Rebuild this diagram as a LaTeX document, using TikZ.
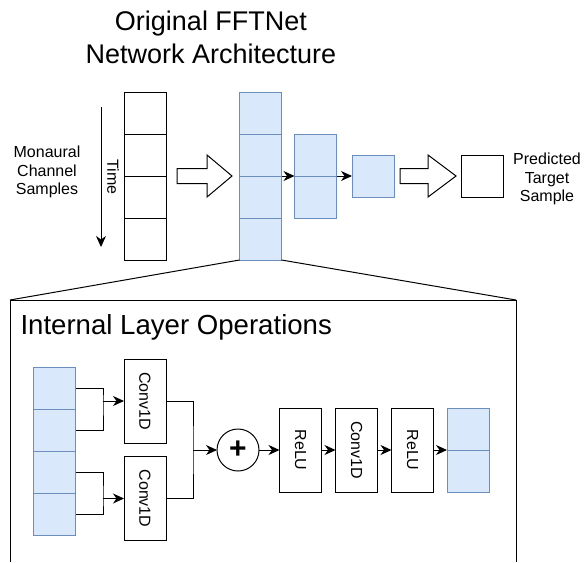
\documentclass[tikz,border=0pt]{standalone}
\usepackage{fontspec}
\usepackage{graphicx}
\setmainfont{Liberation Sans}
\usetikzlibrary{positioning,arrows.meta}
\definecolor{cellblue}{HTML}{DAE8FC}
\definecolor{edgeblue}{HTML}{6C8EBF}

\begin{document}
\begin{tikzpicture}[x=1pt, y=-1pt, line width=1pt,
  cell/.style={draw, minimum width=42pt, minimum height=42pt, inner sep=0pt, outer sep=0pt},
  bcell/.style={cell, draw=edgeblue, fill=cellblue},
  op/.style={draw, minimum width=42pt, minimum height=84pt, inner sep=0pt, outer sep=0pt, font=\fontsize{16}{19}\selectfont},
  lbl/.style={align=center, inner sep=0pt, font=\fontsize{16}{18.5}\selectfont},
  arr/.style={-{Stealth[length=11pt,width=10pt,inset=3.5pt]}},
  hollow/.style={draw, line join=miter}]
		\useasboundingbox (0,0) rectangle (585,562);

		% title
		\node[align=center, inner sep=0pt, font=\fontsize{27}{33}\selectfont] (title) at (211,37) {Original FFTNet\\Network Architecture};

		% input samples
		\node[cell] (in1) at (145,113) {};
		\node[cell, below=0pt of in1] (in2) {};
		\node[cell, below=0pt of in2] (in3) {};
		\node[cell, below=0pt of in3] (in4) {};
		\node[lbl] (mono) at (47,172) {Monaural\\Channel\\Samples};
		\coordinate (t1) at (101,107);
		\coordinate (t2) at (101,247);
		\draw[arr] (t1) -- (t2);
		\node[lbl, rotate=-90] (time) at (113,177) {Time};

		% layers
		\node[bcell] (a1) at (260.5,113) {};
		\node[bcell, below=0pt of a1] (a2) {};
		\node[bcell, below=0pt of a2] (a3) {};
		\node[bcell, below=0pt of a3] (a4) {};
		\node[bcell] (m1) at (315.5,155) {};
		\node[bcell, below=0pt of m1] (m2) {};
		\node[bcell] (s1) at (373,176) {};
		\node[cell] (out) at (482,176) {};
		\node[lbl] (pred) at (547,179) {Predicted\\Target\\Sample};

		\draw[hollow] (177,168.5) -- (207,168.5) -- (207,155) -- (232,176) -- (207,197) -- (207,183.5) -- (177,183.5) -- cycle;
		\draw[hollow] (400,168.5) -- (428,168.5) -- (428,155) -- (456,176) -- (428,197) -- (428,183.5) -- (400,183.5) -- cycle;
		\draw[arr] (a2.south east) -- (m1.south west);
		\draw[arr] (m1.south east) -- (s1.west);

		% zoom box
		\coordinate (tl) at (10,300);
		\coordinate (tr) at (516,300);
		\coordinate (bl) at (10,562);
		\coordinate (br) at (516,562);
		\draw (a4.south west) -- (tl);
		\draw (a4.south east) -- (tr);
		\draw (bl) -- (tl) -- (tr) -- (br);
		\node[anchor=base west, inner sep=0pt, font=\fontsize{27.6}{33}\selectfont] (inner) at (20,334) {Internal Layer Operations};

		% internal layer
		\node[bcell] (b1) at (54.5,388) {};
		\node[bcell, below=0pt of b1] (b2) {};
		\node[bcell, below=0pt of b2] (b3) {};
		\node[bcell, below=0pt of b3] (b4) {};
		\node[op] (c1) at (145,401) {\rotatebox{-90}{Conv1D}};
		\node[op] (c2) at (145,498.5) {\rotatebox{-90}{Conv1D}};
		\node[draw, circle, minimum size=42pt, inner sep=0pt, outer sep=0pt, font=\fontsize{30}{30}\selectfont\bfseries] (plus) at (238,450) {+};
		\node[op] (r1) at (300.5,450) {\rotatebox{-90}{ReLU}};
		\node[op, right=14pt of r1] (c3) {\rotatebox{-90}{Conv1D}};
		\node[op, right=14pt of c3] (r2) {\rotatebox{-90}{ReLU}};
		\node[bcell, anchor=south west] (o1) at (447,450) {};
		\node[bcell, below=0pt of o1] (o2) {};

		\coordinate (j1) at (103,401);
		\coordinate (j2) at (103,498.5);
		\coordinate (j3) at (193,450);
		\draw (b1.east) -| (j1) |- (b2.east);
		\draw (b3.east) -| (j2) |- (b4.east);
		\draw[arr] (j1) -- (c1);
		\draw[arr] (j2) -- (c2);
		\draw (c1.east) -| (j3) |- (c2.east);
		\draw[arr] (j3) -- (plus);
		\draw[arr] (plus) -- (r1);
		\draw[arr] (r1) -- (c3);
		\draw[arr] (c3) -- (r2);
		\draw[arr] (r2.east) -- (o1.south west);
	\end{tikzpicture}
\end{document}
